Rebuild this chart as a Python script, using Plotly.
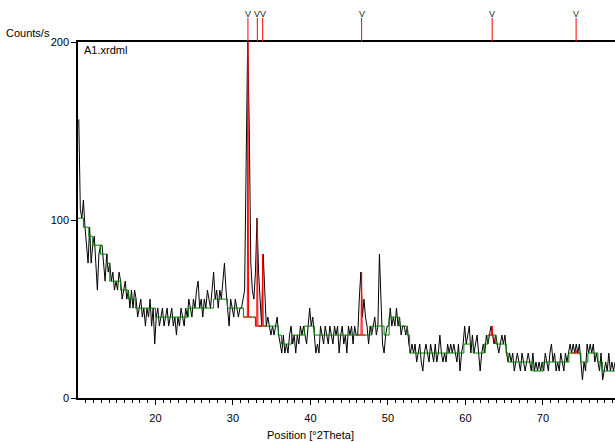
import numpy as np
import plotly.graph_objects as go

# Scan settings
start_2theta = 10.1      # first step position [°2Theta]
step_2theta = 0.2        # step size [°2Theta]
step_time = 0.198        # counting time per step [s]

# Measured counts per step, 5 steps per degree starting at 10.1°
counts = [
    31, 21, 20, 22, 19,   17, 15, 19, 15, 17,   18, 15, 12, 16, 17,   17, 15, 13, 16, 14,   # 10-13
    15, 13, 14, 12, 13,   12, 14, 13, 11, 12,   13, 11, 12, 10, 12,   10, 12, 11, 9, 10,    # 14-17
    11, 9, 10, 8, 10,     9, 11, 8, 10, 6,      9, 10, 8, 9, 10,      8, 9, 10, 8, 9,       # 18-21
    10, 8, 9, 7, 9,       8, 10, 9, 8, 10,      9, 11, 10, 9, 11,     10, 12, 13, 10, 11,   # 22-25
    9, 11, 10, 12, 11,    10, 12, 14, 11, 12,   10, 12, 11, 13, 15,   12, 10, 8, 11, 10,    # 26-29
    9, 11, 10, 9, 10,     10, 11, 12, 26, 40,   30, 15, 12, 11, 14,   20, 14, 11, 8, 16,    # 30-33
    11, 8, 9, 8, 7,       8, 7, 8, 9, 7,        6, 5, 7, 5, 6,        5, 7, 8, 6, 7,        # 34-37
    5, 7, 6, 8, 7,        8, 7, 6, 8, 10,       8, 9, 7, 5, 6,        5, 8, 7, 6, 8,        # 38-41
    7, 6, 8, 7, 6,        8, 7, 8, 5, 7,        8, 6, 7, 5, 8,        7, 8, 6, 8, 7,        # 42-45
    7, 11, 14, 9, 11,     9, 8, 6, 8, 7,        8, 9, 7, 8, 16,       10, 6, 5, 7, 8,       # 46-49
    8, 10, 8, 9, 8,       10, 8, 9, 7, 8,       8, 7, 8, 6, 5,        6, 5, 6, 4, 5,        # 50-53
    6, 4, 3, 5, 6,        5, 4, 6, 5, 4,        6, 4, 5, 7, 5,        4, 5, 4, 6, 5,        # 54-57
    6, 5, 6, 5, 4,        6, 3, 5, 6, 8,        6, 7, 8, 5, 7,        5, 6, 7, 5, 3,        # 58-61
    5, 6, 5, 7, 6,        7, 8, 7, 6, 7,        6, 5, 6, 7, 6,        7, 5, 4, 5, 4,        # 62-65
    5, 3, 4, 5, 4,        3, 5, 4, 3, 4,        5, 4, 3, 5, 3,        4, 3, 4, 3, 4,        # 66-69
    3, 5, 4, 3, 5,        6, 4, 5, 3, 4,        3, 5, 4, 3, 5,        4, 5, 6, 5, 6,        # 70-73
    5, 6, 5, 6, 4,        2, 4, 3, 6, 5,        6, 5, 6, 4, 5,        4, 3, 5, 2, 3,        # 74-77
    4, 3, 5, 3, 4,        3, 4,                                                          # 78-79
]

# Fitted background: step edges [°2Theta] and level in counts per step
bg_edges = [10.0, 10.7, 11.4, 11.9, 12.9, 13.8, 14.1, 15.5, 16.5, 17.4,
            20.0, 24.25, 27.5, 29.3, 31.35, 32.9, 35.85, 36.25, 37.55, 39.2,
            40.5, 47.85, 49.5, 50.15, 51.45, 52.5, 52.8, 59.8, 61.0, 62.4,
            62.9, 63.95, 65.25, 65.5, 68.7, 70.0, 73.35, 74.9, 75.8, 77.1,
            77.7, 79.3]
bg_counts = [20, 19, 18, 17, 16, 15, 13, 12, 11, 10,
             9, 10, 11, 10, 9, 8, 7, 6, 7, 8,
             7, 8, 7, 9, 8, 7, 5, 6, 5, 6,
             7, 6, 5, 4, 3, 4, 5, 4, 5, 4,
             3]

# Identified peaks: position [°2Theta] and fitted top in counts per step
peak_pos = [31.93, 33.14, 33.83, 46.6, 63.45, 74.28]
peak_top_counts = [40, 20, 16, 14, 8, 5.3]

x_min, x_max = 10.0, 79.3
y_max = 200

two_theta = start_2theta + step_2theta * np.arange(len(counts))
intensity = np.array(counts) / step_time

bg_x = bg_edges
bg_y = [c / step_time for c in bg_counts] + [bg_counts[-1] / step_time]


def bg_at(x):
    i = int(np.searchsorted(bg_edges, x, side="right")) - 1
    i = min(max(i, 0), len(bg_counts) - 1)
    return bg_counts[i]


BLACK = "#000000"
GREEN = "#008000"
RED = "#ff0000"
FONT = "Liberation Sans, Arial, sans-serif"

fig = go.Figure()

# Measured pattern
fig.add_trace(go.Scatter(x=two_theta, y=intensity, mode="lines",
                         line=dict(color=BLACK, width=1), hoverinfo="skip"))

# Background
fig.add_trace(go.Scatter(x=bg_x, y=bg_y, mode="lines",
                         line=dict(color=GREEN, width=1, shape="hv"), hoverinfo="skip"))

# Peak profiles on top of the background
half_window = 0.5
half_base = 0.08
for p, top in zip(peak_pos, peak_top_counts):
    lo, hi = p - half_window, p + half_window
    pts = [(lo, bg_at(lo)), (p - half_base, bg_at(p - half_base)), (p, top),
           (p + half_base, bg_at(p + half_base)), (hi, bg_at(hi))]
    for e in bg_edges:
        if lo < e < hi and abs(e - p) > half_base:
            pts.append((e - 1e-6, bg_at(e - 1e-6)))
            pts.append((e, bg_at(e)))
    pts.sort(key=lambda t: t[0])
    fig.add_trace(go.Scatter(x=[q[0] for q in pts], y=[q[1] / step_time for q in pts],
                             mode="lines", line=dict(color=RED, width=1), hoverinfo="skip"))

# Reference markers above the frame
plot_h = 442 - 42 - 44
for p in peak_pos:
    fig.add_shape(type="line", xref="x", yref="paper", x0=p, x1=p,
                  y0=1.0, y1=1 + 24 / plot_h, line=dict(color=RED, width=1))
    fig.add_annotation(x=p, xref="x", y=1 + 28 / plot_h, yref="paper", text="V",
                       showarrow=False, xanchor="center", yanchor="middle",
                       font=dict(family=FONT, size=9, color="#222222"))

fig.add_annotation(x=(4 - 78) / 537, xref="paper", y=1 + 9 / plot_h, yref="paper",
                   text="Counts/s", showarrow=False, xanchor="left", yanchor="middle",
                   font=dict(family=FONT, size=11, color=BLACK))
fig.add_annotation(x=(82 - 78) / 537, xref="paper", y=1 - 8 / plot_h, yref="paper",
                   text="A1.xrdml", showarrow=False, xanchor="left", yanchor="middle",
                   font=dict(family=FONT, size=11, color=BLACK))
fig.add_annotation(x=(310 - 78) / 537, xref="paper", y=-(37 / plot_h), yref="paper",
                   text="Position [°2Theta]", showarrow=False, xanchor="center",
                   yanchor="middle", font=dict(family=FONT, size=11, color=BLACK))

fig.update_layout(
    width=615, height=442,
    margin=dict(l=78, r=0, t=42, b=44),
    paper_bgcolor="white", plot_bgcolor="white",
    showlegend=False,
    font=dict(family=FONT, size=11, color=BLACK),
    xaxis=dict(range=[x_min, x_max], showgrid=False, zeroline=False,
               showline=True, linecolor=BLACK, linewidth=1.5, mirror=True,
               ticks="outside", ticklen=5, tickwidth=1, tickcolor=BLACK,
               tickvals=[20, 30, 40, 50, 60, 70], ticklabelstandoff=4,
               minor=dict(ticks="outside", ticklen=3, tickcolor=BLACK,
                          tickvals=list(range(11, 80)), showgrid=False)),
    yaxis=dict(range=[0, y_max], showgrid=False, zeroline=False,
               showline=True, linecolor=BLACK, linewidth=1.5,
               ticks="outside", ticklen=5, tickwidth=1, tickcolor=BLACK,
               tickvals=[0, 100, 200]),
)

fig.write_html("out.html", config={"displayModeBar": False})
